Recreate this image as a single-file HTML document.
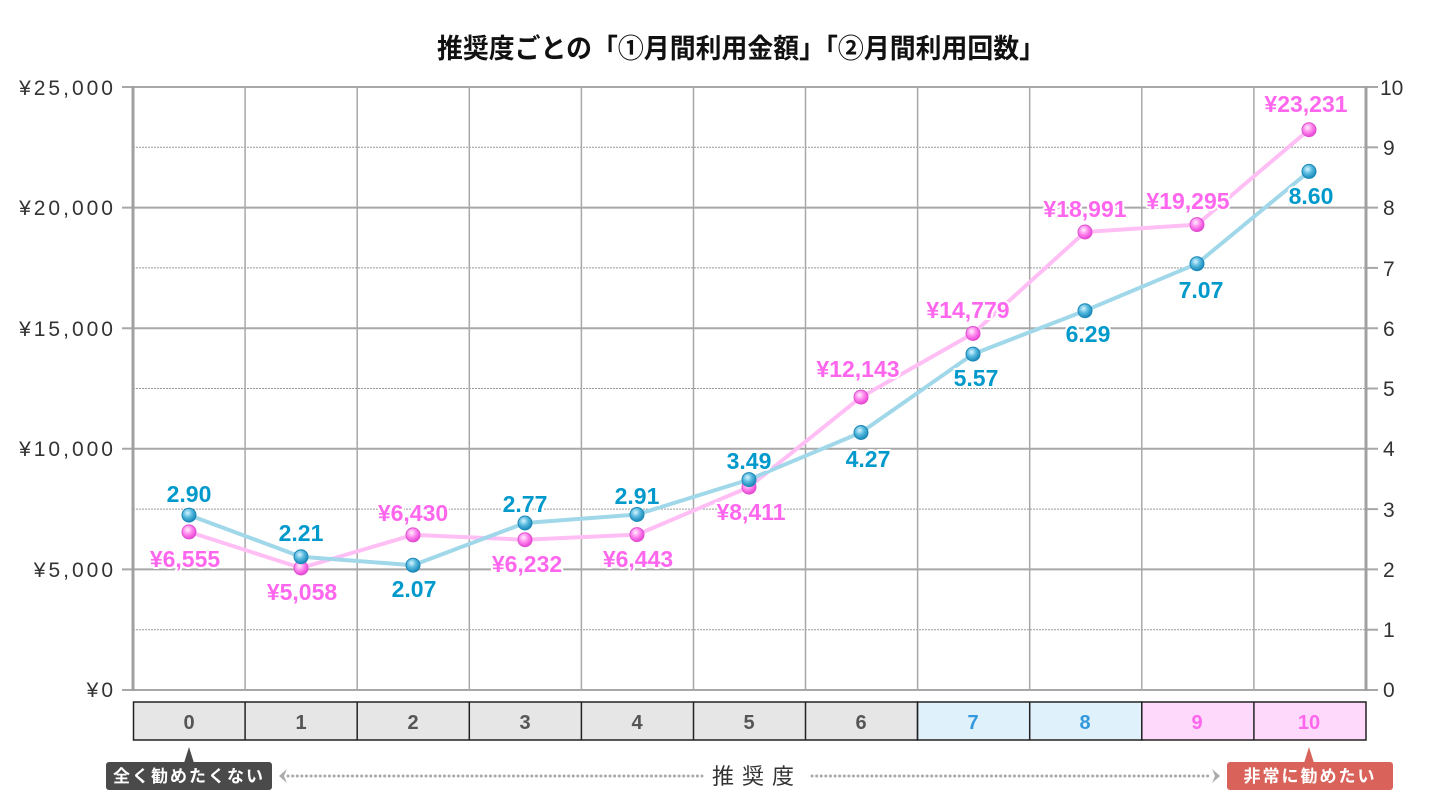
<!DOCTYPE html>
<html><head><meta charset="utf-8"><style>
html,body{margin:0;padding:0;background:#fff;}
svg{display:block;font-family:"Liberation Sans","Noto Sans CJK JP",sans-serif;}
.lb{font-weight:bold;font-size:23px;text-anchor:middle;stroke:#fff;stroke-width:4px;paint-order:stroke;stroke-linejoin:round;}
.p{fill:#ff66ee;} .b{fill:#0099cc;}
.ax{font-size:21px;fill:#333;}
</style></head><body>
<svg width="1441" height="800" viewBox="0 0 1441 800">
<defs>
<radialGradient id="gb" cx="40%" cy="35%" r="65%"><stop offset="0" stop-color="#d8f4ff"/><stop offset="0.5" stop-color="#55b8dd"/><stop offset="1" stop-color="#1a88b8"/></radialGradient>
<radialGradient id="gp" cx="40%" cy="35%" r="65%"><stop offset="0" stop-color="#fff0fc"/><stop offset="0.5" stop-color="#ff88ee"/><stop offset="1" stop-color="#e844d4"/></radialGradient>
</defs>
<text x="741" y="58" font-size="27" font-weight="bold" text-anchor="middle" fill="#111" textLength="608" lengthAdjust="spacingAndGlyphs">推奨度ごとの「①月間利用金額」「②月間利用回数」</text>
<g stroke="#999" stroke-width="1" stroke-dasharray="2,1">
<line x1="133" x2="1366" y1="147.3" y2="147.3"/><line x1="133" x2="1366" y1="267.9" y2="267.9"/><line x1="133" x2="1366" y1="388.5" y2="388.5"/><line x1="133" x2="1366" y1="509.1" y2="509.1"/><line x1="133" x2="1366" y1="629.7" y2="629.7"/>
</g>
<g stroke="#a8a8a8" stroke-width="2">
<line x1="122" x2="1378" y1="87" y2="87"/><line x1="122" x2="1378" y1="207.6" y2="207.6"/><line x1="122" x2="1378" y1="328.2" y2="328.2"/><line x1="122" x2="1378" y1="448.8" y2="448.8"/><line x1="122" x2="1378" y1="569.4" y2="569.4"/><line x1="122" x2="1378" y1="690" y2="690"/>
<line x1="1366" x2="1378" y1="147.3" y2="147.3"/><line x1="1366" x2="1378" y1="267.9" y2="267.9"/><line x1="1366" x2="1378" y1="388.5" y2="388.5"/><line x1="1366" x2="1378" y1="509.1" y2="509.1"/><line x1="1366" x2="1378" y1="629.7" y2="629.7"/>
</g>
<g stroke="#a8a8a8" stroke-width="1.5">
<line x1="245.1" x2="245.1" y1="87" y2="690"/><line x1="357.2" x2="357.2" y1="87" y2="690"/><line x1="469.3" x2="469.3" y1="87" y2="690"/><line x1="581.4" x2="581.4" y1="87" y2="690"/><line x1="693.5" x2="693.5" y1="87" y2="690"/><line x1="805.5" x2="805.5" y1="87" y2="690"/><line x1="917.6" x2="917.6" y1="87" y2="690"/><line x1="1029.7" x2="1029.7" y1="87" y2="690"/><line x1="1141.8" x2="1141.8" y1="87" y2="690"/><line x1="1253.9" x2="1253.9" y1="87" y2="690"/>
</g>
<g stroke="#a0a0a0" stroke-width="3"><line x1="133" x2="133" y1="86" y2="691"/><line x1="1366" x2="1366" y1="86" y2="691"/></g>
<g class="ax" text-anchor="end">
<text x="116" y="95" letter-spacing="3">¥25,000</text><text x="116" y="215" letter-spacing="3">¥20,000</text><text x="116" y="336" letter-spacing="3">¥15,000</text><text x="116" y="456" letter-spacing="3">¥10,000</text><text x="116" y="577" letter-spacing="3">¥5,000</text><text x="116" y="697" letter-spacing="3">¥0</text>
</g>
<g class="ax">
<text x="1380" y="95">10</text><text x="1383" y="155">9</text><text x="1383" y="215">8</text><text x="1383" y="276">7</text><text x="1383" y="336">6</text><text x="1383" y="396">5</text><text x="1383" y="456">4</text><text x="1383" y="517">3</text><text x="1383" y="577">2</text><text x="1383" y="637">1</text><text x="1383" y="697">0</text>
</g>
<polyline fill="none" stroke="#ffbff5" stroke-width="4" stroke-linejoin="round" points="189,531.9 301,568 413,534.9 525,539.7 637,534.6 749,487.1 861,397.1 973,333.5 1085,232 1197,224.6 1309,129.7"/>
<polyline fill="none" stroke="#a0d8ea" stroke-width="4" stroke-linejoin="round" points="189,515.1 301,556.7 413,565.2 525,523 637,514.5 749,479.6 861,432.5 973,354.1 1085,310.7 1197,263.7 1309,171.4"/>
<g fill="url(#gp)" stroke="#e050d0" stroke-width="1">
<circle cx="189" cy="531.9" r="7"/><circle cx="301" cy="568" r="7"/><circle cx="413" cy="534.9" r="7"/><circle cx="525" cy="539.7" r="7"/><circle cx="637" cy="534.6" r="7"/><circle cx="749" cy="487.1" r="7"/><circle cx="861" cy="397.1" r="7"/><circle cx="973" cy="333.5" r="7"/><circle cx="1085" cy="232" r="7"/><circle cx="1197" cy="224.6" r="7"/><circle cx="1309" cy="129.7" r="7"/>
</g>
<g fill="url(#gb)" stroke="#1a88b8" stroke-width="1">
<circle cx="189" cy="515.1" r="7"/><circle cx="301" cy="556.7" r="7"/><circle cx="413" cy="565.2" r="7"/><circle cx="525" cy="523" r="7"/><circle cx="637" cy="514.5" r="7"/><circle cx="749" cy="479.6" r="7"/><circle cx="861" cy="432.5" r="7"/><circle cx="973" cy="354.1" r="7"/><circle cx="1085" cy="310.7" r="7"/><circle cx="1197" cy="263.7" r="7"/><circle cx="1309" cy="171.4" r="7"/>
</g>
<g class="lb p">
<text x="185" y="567">¥6,555</text><text x="302" y="600">¥5,058</text><text x="413" y="521">¥6,430</text><text x="527" y="572">¥6,232</text><text x="638" y="567">¥6,443</text><text x="751" y="520">¥8,411</text><text x="858" y="377">¥12,143</text><text x="968" y="318">¥14,779</text><text x="1085" y="217">¥18,991</text><text x="1188" y="209">¥19,295</text><text x="1306" y="112">¥23,231</text>
</g>
<g class="lb b">
<text x="189" y="502">2.90</text><text x="301" y="541">2.21</text><text x="414" y="597">2.07</text><text x="525" y="512">2.77</text><text x="637" y="504">2.91</text><text x="749" y="469">3.49</text><text x="868" y="467">4.27</text><text x="976" y="386">5.57</text><text x="1088" y="342">6.29</text><text x="1201" y="298">7.07</text><text x="1311" y="204">8.60</text>
</g>
<g stroke="#222" stroke-width="1.5">
<rect x="133.5" y="702" width="784" height="38" fill="#e6e6e6"/>
<rect x="917.6" y="702" width="224.2" height="38" fill="#dff1fb"/>
<rect x="1141.8" y="702" width="224.2" height="38" fill="#ffd9fb"/>
<line x1="245.1" x2="245.1" y1="702" y2="740"/><line x1="357.2" x2="357.2" y1="702" y2="740"/><line x1="469.3" x2="469.3" y1="702" y2="740"/><line x1="581.4" x2="581.4" y1="702" y2="740"/><line x1="693.5" x2="693.5" y1="702" y2="740"/><line x1="805.5" x2="805.5" y1="702" y2="740"/><line x1="1029.7" x2="1029.7" y1="702" y2="740"/><line x1="1253.9" x2="1253.9" y1="702" y2="740"/>
</g>
<g font-size="20" font-weight="bold" text-anchor="middle">
<g fill="#555"><text x="189" y="729">0</text><text x="301" y="729">1</text><text x="413" y="729">2</text><text x="525" y="729">3</text><text x="637" y="729">4</text><text x="749" y="729">5</text><text x="861" y="729">6</text></g>
<g fill="#3399dd"><text x="973" y="729">7</text><text x="1085" y="729">8</text></g>
<g fill="#ff66ee"><text x="1197" y="729">9</text><text x="1309" y="729">10</text></g>
</g>
<path d="M184,763 L189,747 L194,763 Z" fill="#4a4a4a"/>
<rect x="106" y="762" width="166" height="28" rx="3" fill="#4a4a4a"/>
<text x="189" y="782" font-size="17" fill="#fff" text-anchor="middle" font-weight="bold" letter-spacing="2">全く勧めたくない</text>
<path d="M1304,763 L1309,747 L1314,763 Z" fill="#d9635a"/>
<rect x="1227" y="762" width="166" height="28" rx="3" fill="#d9635a"/>
<text x="1310" y="782" font-size="17" fill="#fff" text-anchor="middle" font-weight="bold" letter-spacing="2">非常に勧めたい</text>
<g stroke="#aaa" stroke-width="3" stroke-linecap="round" stroke-dasharray="0.1,4.5">
<line x1="288" x2="702" y1="776" y2="776"/><line x1="812" x2="1210" y1="776" y2="776"/>
</g>
<path d="M287,769 L279,776 L287,783 L284,776 Z" fill="#aaa"/>
<path d="M1212,769 L1220,776 L1212,783 L1215,776 Z" fill="#aaa"/>
<text x="757" y="784" font-size="22" fill="#333" text-anchor="middle" letter-spacing="8">推奨度</text>
</svg>
</body></html>
